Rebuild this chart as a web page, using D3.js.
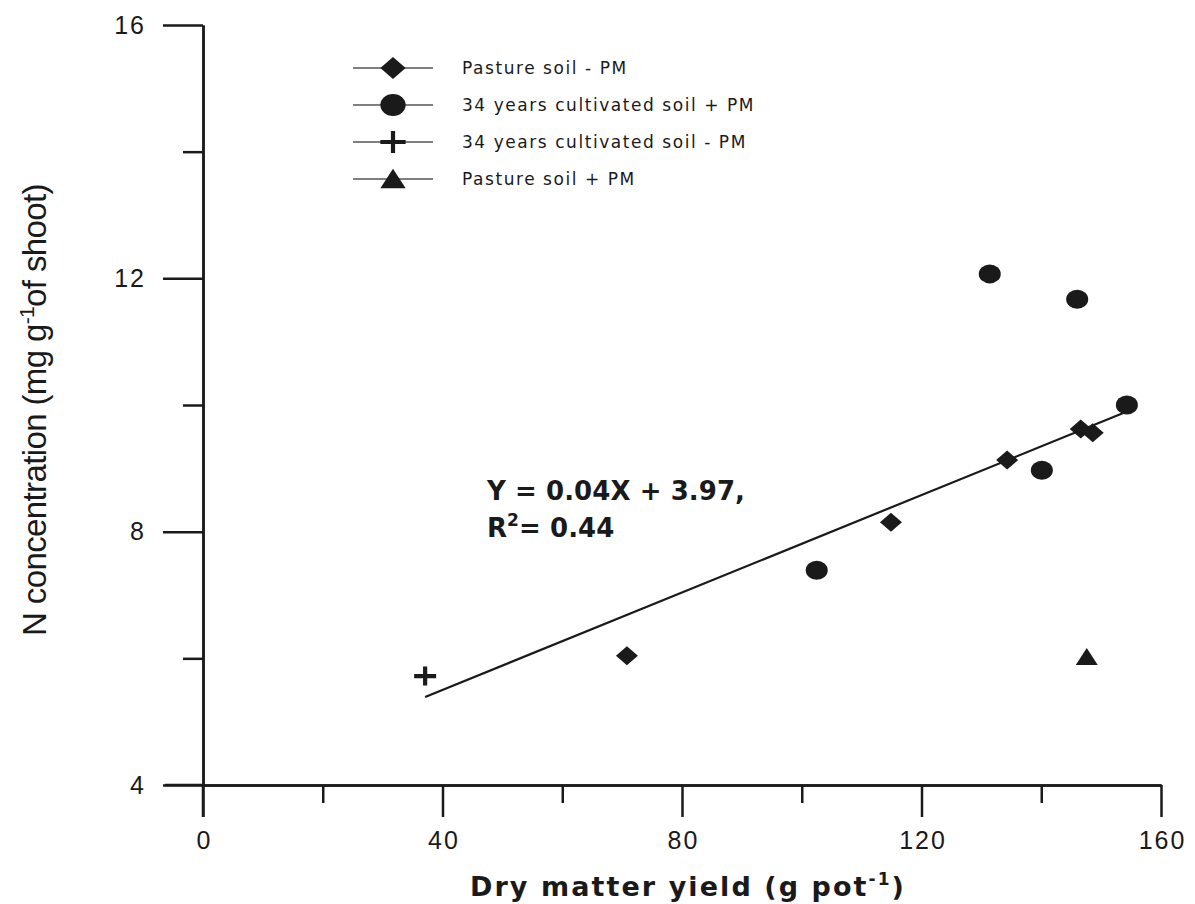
<!DOCTYPE html>
<html>
<head>
<meta charset="utf-8">
<script src="https://cdn.jsdelivr.net/npm/d3@7"></script>
<style>
  body { margin: 0; background: #fff; }
  svg text { font-family: "Liberation Sans", Arial, sans-serif; fill: #1a1a1a; }
  svg text.wide { font-family: "DejaVu Sans", Verdana, sans-serif; }
</style>
</head>
<body>
<svg width="1195" height="904"></svg>
<script>
// series data (x = dry matter yield, y = N concentration)
var pastureMinus = [[70.8, 6.04], [114.9, 8.15], [134.3, 9.13], [146.6, 9.62], [148.6, 9.56]];
var cultPlus = [[102.5, 7.39], [131.4, 12.07], [146.0, 11.67], [154.3, 10.0], [140.1, 8.97]];
var cultMinus = [[37.1, 5.72]];
var pasturePlus = [[147.6, 6.02]];
// regression line as drawn in the figure (end points)
var fitLine = [[37.1, 5.39], [153.6, 9.87]];
var xMajor = [0, 40, 80, 120, 160], xMinor = [20, 60, 100, 140];
var yMajor = [4, 8, 12, 16], yMinor = [6, 10, 14];
var legendNames = ["Pasture soil - PM", "34 years cultivated soil + PM", "34 years cultivated soil - PM", "Pasture soil + PM"];

var svg = d3.select("svg");
var ink = "#1a1a1a";

var x = d3.scaleLinear().domain([0, 160]).range([203, 1161]),
    y = d3.scaleLinear().domain([4, 16]).range([785, 25]);

// spread (or squeeze) the letters of a text so it takes the given width
function fitWidth(sel, target) {
    var node = sel.node();
    var n = node.textContent.length;
    var len = node.getComputedTextLength();
    sel.attr("letter-spacing", (target - len) / n);
}

var g = svg.append("g");

var xAxis = d3.axisBottom(x).tickValues(xMajor).tickSize(32).tickSizeOuter(0).tickPadding(14);
var xAxisMinor = d3.axisBottom(x).tickValues(xMinor).tickSize(18).tickSizeOuter(0).tickFormat("");
var yAxis = d3.axisLeft(y).tickValues(yMajor).tickSize(40).tickSizeOuter(0).tickPadding(17);
var yAxisMinor = d3.axisLeft(y).tickValues(yMinor).tickSize(20).tickSizeOuter(0).tickFormat("");

g.append("g").attr("class", "xa").attr("transform", "translate(0,785)").call(xAxis);
g.append("g").attr("transform", "translate(0,785)").call(xAxisMinor);
g.append("g").attr("class", "ya").attr("transform", "translate(203,0)").call(yAxis);
g.append("g").attr("transform", "translate(203,0)").call(yAxisMinor);

g.selectAll(".domain").attr("stroke", ink).attr("stroke-width", 2.5);
g.selectAll(".tick line").attr("stroke", ink).attr("stroke-width", 2.5);
g.selectAll(".tick text").attr("font-size", 25).attr("fill", "#222").attr("letter-spacing", 2);
g.selectAll(".xa .tick text").attr("dx", 1);

// x axis line continues a bit to the left of the y axis (the "4" tick)
g.append("line").attr("x1", 165).attr("x2", 203).attr("y1", y(4)).attr("y2", y(4))
    .attr("stroke", ink).attr("stroke-width", 2.5);
// y axis line continues below x axis (the "0" tick)
g.append("line").attr("x1", x(0)).attr("x2", x(0)).attr("y1", y(4)).attr("y2", y(4) + 32)
    .attr("stroke", ink).attr("stroke-width", 2.5);

// axis titles
var xt = svg.append("text").attr("class", "wide").attr("x", 688).attr("y", 896).attr("text-anchor", "middle")
    .attr("font-size", 27).attr("font-weight", "bold");
xt.append("tspan").text("Dry matter yield (g pot");
xt.append("tspan").attr("dy", -11).attr("font-size", 17).text("-1");
xt.append("tspan").attr("dy", 11).text(")");
fitWidth(xt, 436);

var yt = svg.append("text").attr("transform", "translate(46,410) rotate(-90)")
    .attr("text-anchor", "middle").attr("font-size", 33);
yt.append("tspan").text("N concentration (mg g");
yt.append("tspan").attr("dy", -12).attr("font-size", 21).text("-1");
yt.append("tspan").attr("dy", 12).text("of shoot)");
fitWidth(yt, 452);

// regression line
var line = d3.line().x(function(d) { return x(d[0]); }).y(function(d) { return y(d[1]); });
svg.append("path").attr("d", line(fitLine)).attr("fill", "none").attr("stroke", ink).attr("stroke-width", 2.2);

// markers, k scales the size
function diamond(sel, k) {
    sel.append("path").attr("d", "M0," + (-9.5 * k) + "L" + (11 * k) + ",0L0," + (9.5 * k) + "L" + (-11 * k) + ",0Z").attr("fill", ink);
}
function circle(sel, k) {
    sel.append("ellipse").attr("rx", 11 * k).attr("ry", 9.5 * k).attr("fill", ink);
}
function plus(sel, k) {
    sel.append("path").attr("d", "M" + (-11 * k) + ",0H" + (11 * k) + "M0," + (-9.5 * k) + "V" + (9.5 * k))
        .attr("stroke", ink).attr("stroke-width", 4.2);
}
function triangle(sel, k) {
    sel.append("path").attr("d", "M0," + (-9 * k) + "L" + (11 * k) + "," + (8 * k) + "H" + (-11 * k) + "Z").attr("fill", ink);
}
var series = [[pastureMinus, diamond], [cultPlus, circle], [cultMinus, plus], [pasturePlus, triangle]];

series.forEach(function(s) {
    svg.append("g").selectAll("g").data(s[0]).enter().append("g")
        .attr("transform", function(d) { return "translate(" + x(d[0]) + "," + y(d[1]) + ")"; })
        .each(function() { s[1](d3.select(this), 1); });
});

// legend
var legend = svg.append("g");
legendNames.forEach(function(name, i) {
    var ly = 68 + i * 37;
    var row = legend.append("g").attr("transform", "translate(0," + ly + ")");
    row.append("line").attr("x1", 353).attr("x2", 433).attr("stroke", "#555").attr("stroke-width", 1.4);
    series[i][1](row.append("g").attr("transform", "translate(393,0)"), 1.15);
    row.append("text").attr("class", "lt wide").attr("x", 462).attr("y", 6).attr("font-size", 17).attr("fill", "#222").text(name);
});
var longest = legend.selectAll(".lt").filter(function(d, i) { return i === 1; });
fitWidth(longest, 293);
legend.selectAll(".lt").attr("letter-spacing", longest.attr("letter-spacing"));

// equation
var eq1 = svg.append("text").attr("class", "wide").attr("x", 487).attr("y", 500).attr("font-size", 26).attr("font-weight", "bold")
    .text("Y = 0.04X + 3.97,");
fitWidth(eq1, 258);
var r2 = svg.append("text").attr("class", "wide").attr("x", 487).attr("y", 537).attr("font-size", 26).attr("font-weight", "bold");
r2.append("tspan").text("R");
r2.append("tspan").attr("dy", -11).attr("font-size", 17).text("2");
r2.append("tspan").attr("dy", 11).text("= 0.44");
r2.attr("letter-spacing", eq1.attr("letter-spacing"));
</script>
</body>
</html>
